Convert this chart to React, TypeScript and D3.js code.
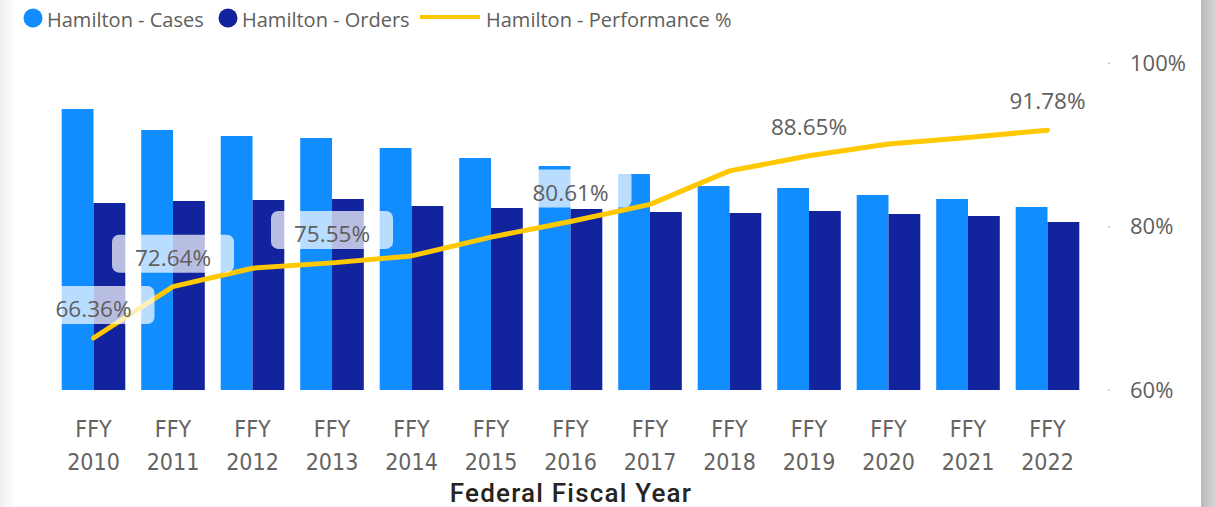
import React from "react";
import * as d3 from "d3";

const years = ["2010","2011","2012","2013","2014","2015","2016","2017","2018","2019","2020","2021","2022"];
const cases = [2810, 2600, 2540, 2520, 2420, 2320, 2240, 2160, 2040, 2020, 1950, 1910, 1830];
const orders = [1870, 1890, 1900, 1910, 1840, 1820, 1810, 1780, 1770, 1790, 1760, 1740, 1680];
const performance = [66.36, 72.64, 74.9, 75.55, 76.4, 78.7, 80.61, 82.7, 86.8, 88.65, 90.1, 90.9, 91.78];
const labeledYears = ["2010", "2011", "2013", "2016", "2019", "2022"];
const pctTicks = [60, 80, 100];
const seriesNames = ["Hamilton - Cases", "Hamilton - Orders", "Hamilton - Performance %"];

const W = 1216, H = 507;
const C_CASES = "#118DFF", C_ORDERS = "#12239E", C_LINE = "#FFC800";
const GREY = "#605E5C";
const SANS = "'Segoe UI', 'Open Sans', sans-serif";
const DIN = "'Liberation Sans Narrow', 'DejaVu Sans Condensed', sans-serif";

export default function App() {
  const x = d3.scaleBand().domain(years).range([53.75, 1087.25]).paddingInner(0.2).paddingOuter(0.1);
  const sub = d3.scaleBand().domain(["cases", "orders"]).range([0, x.bandwidth()]);
  const yBar = d3.scaleLinear().domain([0, 3270]).range([390, 63]);
  const yPct = d3.scaleLinear().domain([60, 100]).range([390, 63]);
  const cx = (y: string) => (x(y) as number) + x.bandwidth() / 2;
  const line = d3.line<number>().x((_, i) => cx(years[i])).y((d) => yPct(d));

  return (
    <svg width={W} height={H} style={{ position: "absolute", left: 0, top: 0, background: "#fff" }}>
      <defs>
        <linearGradient id="lg" x1="0" x2="1">
          <stop offset="0" stopColor="#efefef" />
          <stop offset="1" stopColor="#fafafa" />
        </linearGradient>
        <linearGradient id="rg" x1="0" x2="1">
          <stop offset="0" stopColor="#bababa" />
          <stop offset="1" stopColor="#d6d6d6" />
        </linearGradient>
      </defs>
      <rect x={0} y={0} width={12} height={H} fill="url(#lg)" />
      <rect x={1201} y={0} width={15} height={H} fill="url(#rg)" />

      {/* legend */}
      <g fontFamily={SANS} fontSize={20} fill={GREY}>
        <circle cx={33} cy={18} r={9.5} fill={C_CASES} />
        <text x={47} y={27}>{seriesNames[0]}</text>
        <circle cx={228} cy={18} r={9.5} fill={C_ORDERS} />
        <text x={242} y={27}>{seriesNames[1]}</text>
        <line x1={420} x2={480} y1={17} y2={17} stroke={C_LINE} strokeWidth={4} />
        <text x={486} y={27}>{seriesNames[2]}</text>
      </g>

      {/* right axis */}
      <g fontFamily={SANS} fontSize={22} fill={GREY}>
        {pctTicks.map((t) => (
          <g key={t}>
            <rect x={1108} y={yPct(t) - 0.5} width={2} height={1.5} fill="#c8c6c4" />
            <text x={1130} y={yPct(t)} dy="0.36em">{t}%</text>
          </g>
        ))}
      </g>

      {/* bars */}
      {years.map((yr, i) => (
        <g key={yr}>
          <rect x={(x(yr) as number) + (sub("cases") as number)} width={sub.bandwidth()}
            y={yBar(cases[i])} height={yBar(0) - yBar(cases[i])} fill={C_CASES} />
          <rect x={(x(yr) as number) + (sub("orders") as number)} width={sub.bandwidth()}
            y={yBar(orders[i])} height={yBar(0) - yBar(orders[i])} fill={C_ORDERS} />
        </g>
      ))}

      {/* line */}
      <path d={line(performance) || ""} fill="none" stroke={C_LINE} strokeWidth={5}
        strokeLinejoin="round" strokeLinecap="round" />

      {/* data labels */}
      {years.map((yr, i) => {
        if (!labeledYears.includes(yr)) return null;
        const base = yPct(performance[i]) - 21;
        return (
          <g key={"l" + yr}>
            <rect x={cx(yr) - 61} y={base - 31} width={122} height={38} rx={7}
              fill="#fff" fillOpacity={0.7} />
            <text x={cx(yr)} y={base} textAnchor="middle" fontFamily={SANS} fontSize={22.5} fill={GREY}>
              {performance[i].toFixed(2)}%
            </text>
          </g>
        );
      })}

      {/* x axis */}
      <g fontFamily={DIN} fontSize={23} fill="#666462" textAnchor="middle">
        {years.map((yr) => (
          <g key={"t" + yr}>
            <text x={cx(yr)} y={437}>FFY</text>
            <text x={cx(yr)} y={470}>{yr}</text>
          </g>
        ))}
      </g>
      <text x={571} y={502} textAnchor="middle" fontFamily="Roboto, sans-serif" fontWeight={500}
        fontSize={26} letterSpacing={1.2} fill="#252423">Federal Fiscal Year</text>
    </svg>
  );
}
